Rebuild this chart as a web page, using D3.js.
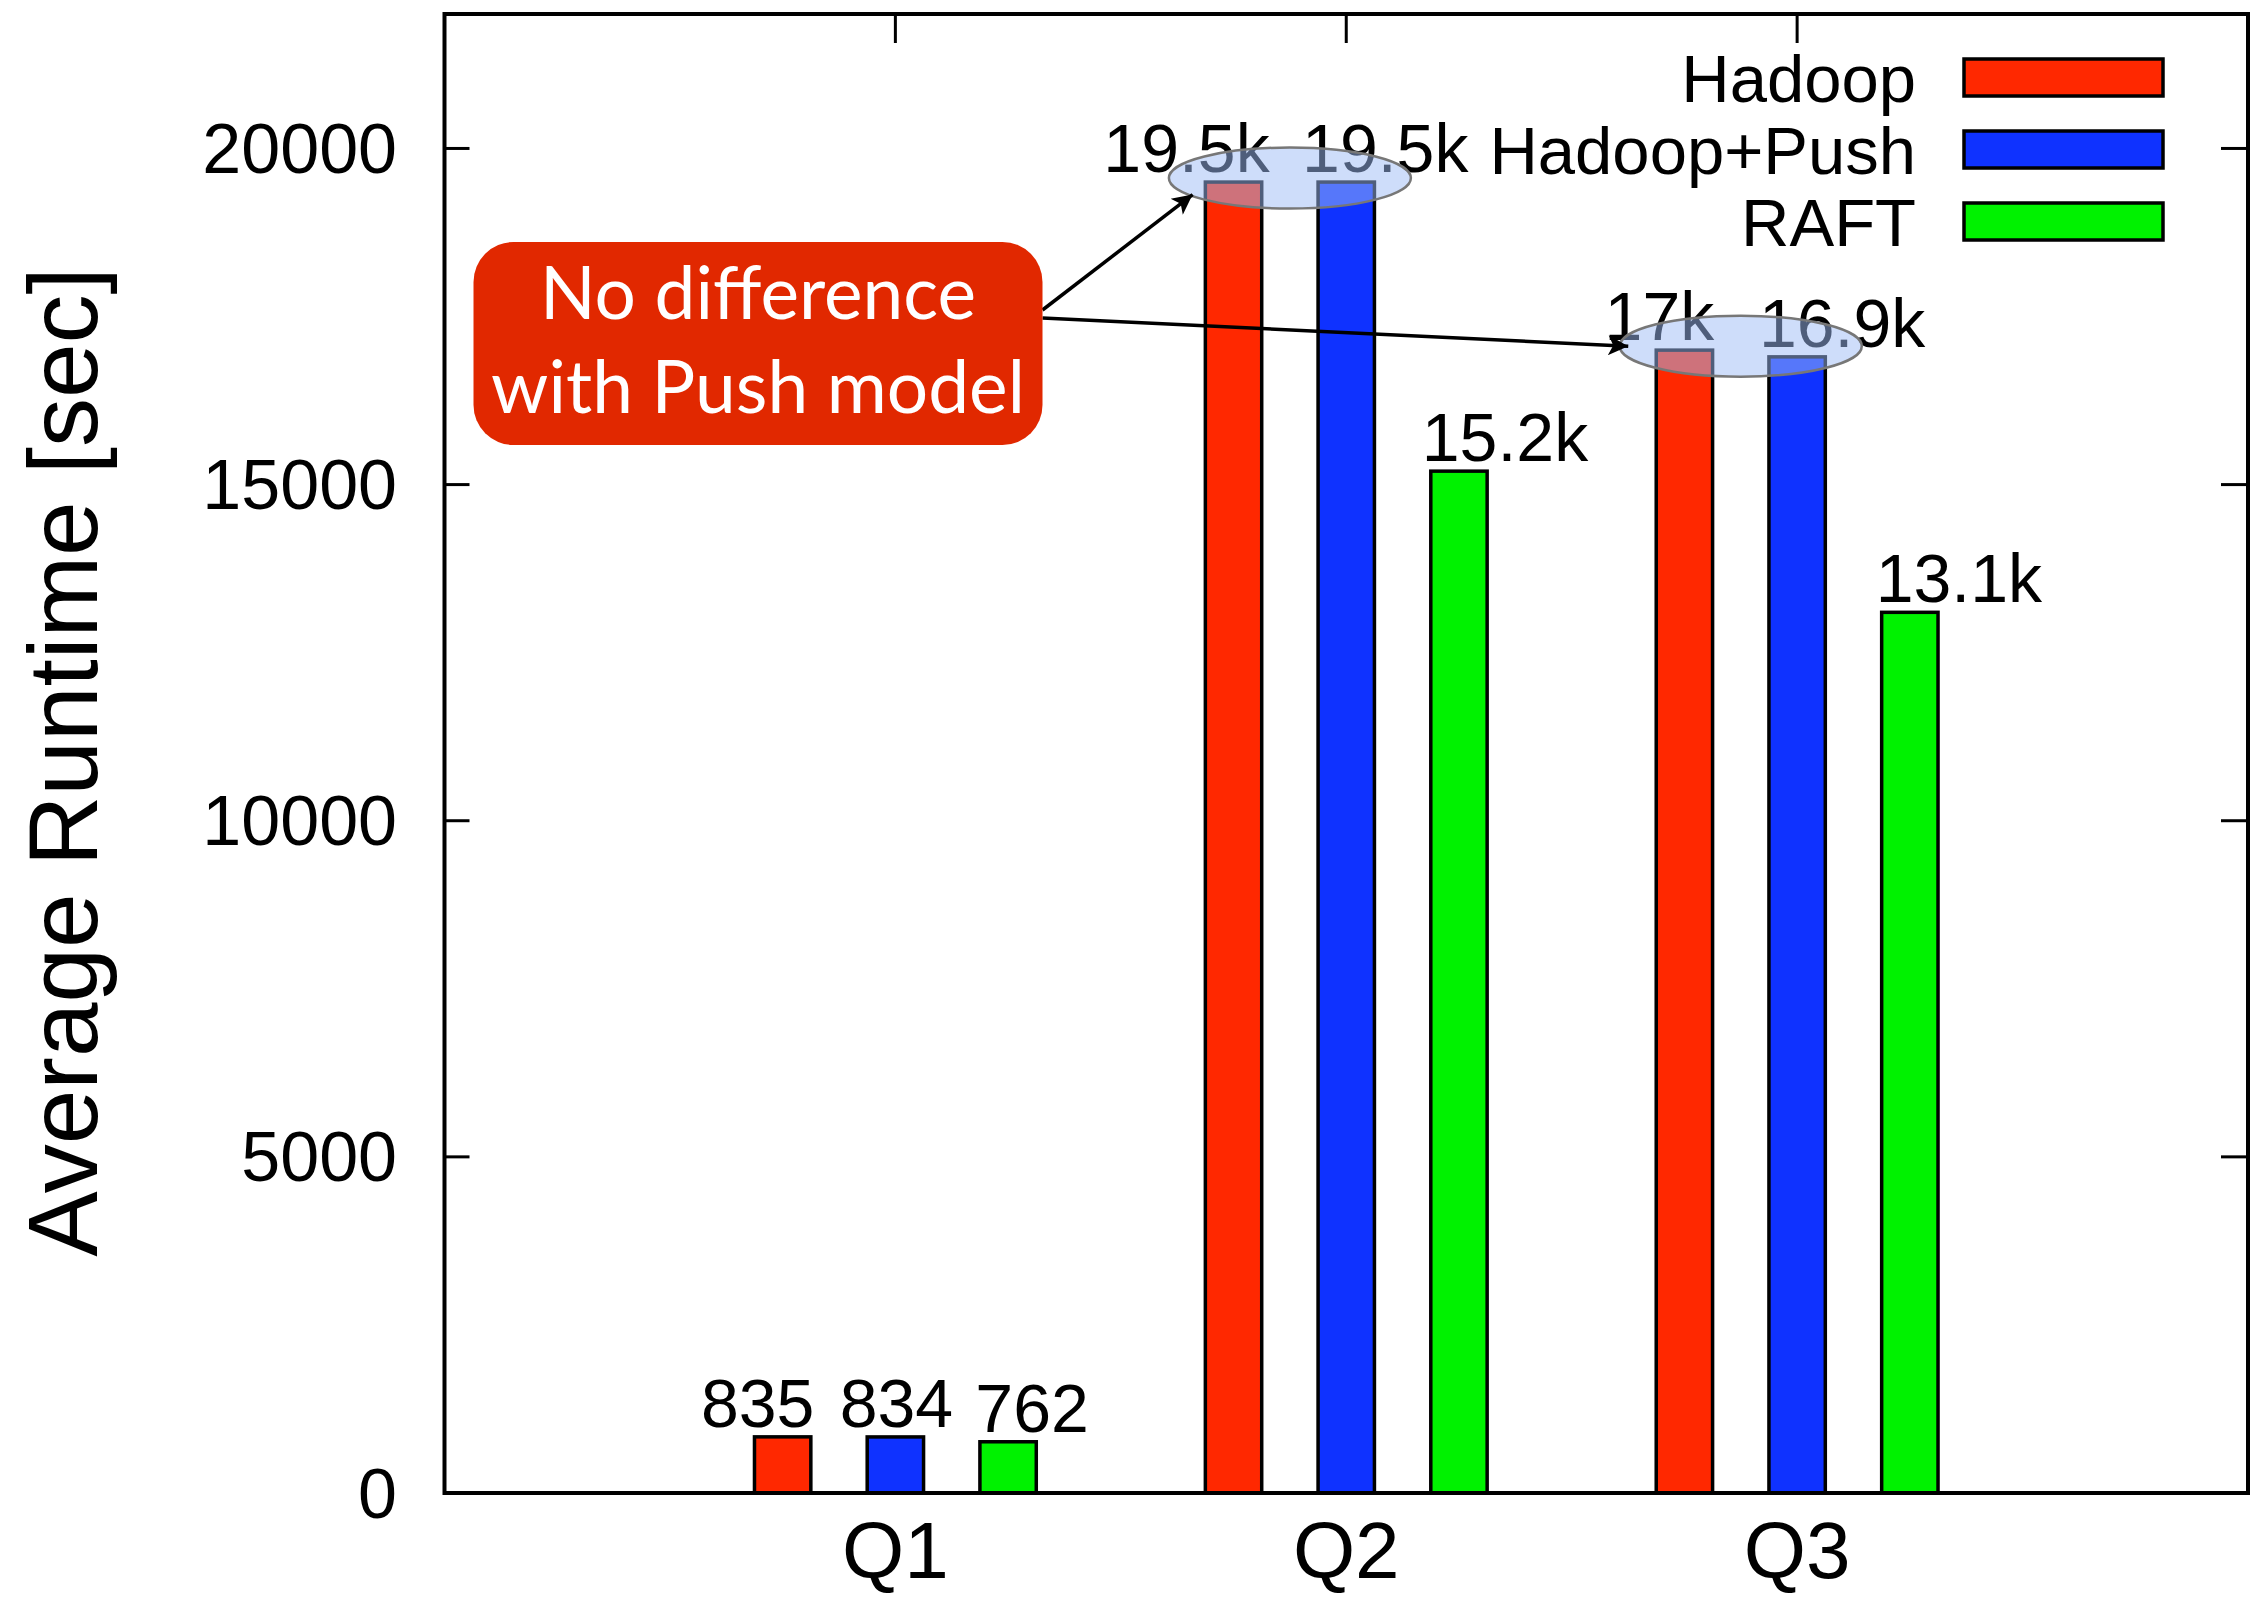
<!DOCTYPE html>
<html>
<head>
<meta charset="utf-8">
<script src="https://cdn.jsdelivr.net/npm/d3@7"></script>
<style>
  html, body { margin: 0; padding: 0; background: #fff; }
  svg { display: block; }
</style>
</head>
<body>
<svg id="chart" width="2250" height="1598"></svg>
<script>
// Query runtimes (seconds)
const categories = ["Q1", "Q2", "Q3"];
const seriesNames = ["Hadoop", "Hadoop+Push", "RAFT"];
const hadoop     = [835, 19500, 17000];
const hadoopPush = [834, 19500, 16900];
const raft       = [762, 15200, 13100];
const yTicks = [0, 5000, 10000, 15000, 20000];
const yTitle = "Average Runtime [sec]";
const noteLines = ["No difference", "with Push model"];

const series = [hadoop, hadoopPush, raft];
const colors = ["#ff2800", "#0f32ff", "#00f200"];

const W = 2250, H = 1598;
const plot = { left: 444.5, right: 2248, top: 14, bottom: 1493 };
const sans = "'Liberation Sans', Arial, Helvetica, sans-serif";

const svg = d3.select("#chart");

// x is continuous: category i sits at position i, frame spans -1..3
const x = d3.scaleLinear().domain([-1, 3]).range([plot.left, plot.right]);
const y = d3.scaleLinear().domain([0, 22000]).range([plot.bottom, plot.top]);

const barOffsets = [-0.25, 0, 0.25];
const barWidthUnits = 0.125;
const barW = x(barWidthUnits) - x(0);

// ticks (inward on all four sides)
const tickG = svg.append("g").attr("stroke", "#000").attr("stroke-width", 3);
yTicks.forEach(t => {
  tickG.append("line").attr("x1", plot.left).attr("x2", plot.left + 25).attr("y1", y(t)).attr("y2", y(t));
  tickG.append("line").attr("x1", plot.right - 27).attr("x2", plot.right).attr("y1", y(t)).attr("y2", y(t));
});
categories.forEach((c, i) => {
  tickG.append("line").attr("x1", x(i)).attr("x2", x(i)).attr("y1", plot.top).attr("y2", plot.top + 29);
  tickG.append("line").attr("x1", x(i)).attr("x2", x(i)).attr("y1", plot.bottom).attr("y2", plot.bottom - 29);
});

// y tick labels
svg.append("g").selectAll("text").data(yTicks).join("text")
  .attr("x", 397).attr("y", d => y(d) + 24.5)
  .attr("text-anchor", "end")
  .attr("font-family", sans).attr("font-size", 70)
  .text(d => d);

// category labels
svg.append("g").selectAll("text").data(categories).join("text")
  .attr("x", (d, i) => x(i)).attr("y", 1578)
  .attr("text-anchor", "middle")
  .attr("font-family", sans).attr("font-size", 80)
  .text(d => d);

// y axis title
svg.append("text")
  .attr("transform", "translate(97,762) rotate(-90)")
  .attr("text-anchor", "middle")
  .attr("font-family", sans).attr("font-size", 98)
  .text(yTitle);

// bars
const barData = [];
series.forEach((vals, s) => vals.forEach((v, i) => barData.push({ s, i, v })));

svg.append("g").selectAll("rect").data(barData).join("rect")
  .attr("x", d => x(d.i + barOffsets[d.s]) - barW / 2)
  .attr("y", d => y(d.v))
  .attr("width", barW)
  .attr("height", d => y(0) - y(d.v))
  .attr("fill", d => colors[d.s])
  .attr("stroke", "#000").attr("stroke-width", 3.5);

// frame
svg.append("rect")
  .attr("x", plot.left).attr("y", plot.top)
  .attr("width", plot.right - plot.left).attr("height", plot.bottom - plot.top)
  .attr("fill", "none").attr("stroke", "#000").attr("stroke-width", 4);

// value labels, nudged sideways so neighbours don't collide
const labelNudge = [[-25, 1, 24], [-47, 39, 46], [-25, 45, 49]];
const fmt = v => v < 1000 ? String(v) : (d3.format(".1f")(v / 1000).replace(/\.0$/, "") + "k");
svg.append("g").selectAll("text").data(barData).join("text")
  .attr("x", d => x(d.i + barOffsets[d.s]) + labelNudge[d.i][d.s])
  .attr("y", d => y(d.v) - 10)
  .attr("text-anchor", "middle")
  .attr("font-family", sans).attr("font-size", 68)
  .text(d => fmt(d.v));

// legend
const legend = svg.append("g");
seriesNames.forEach((name, s) => {
  const cy = 77.5 + s * 72;
  legend.append("text")
    .attr("x", 1916).attr("y", cy + 24)
    .attr("text-anchor", "end")
    .attr("font-family", sans).attr("font-size", 67)
    .text(name);
  legend.append("rect")
    .attr("x", 1964).attr("y", cy - 18.5)
    .attr("width", 199).attr("height", 37)
    .attr("fill", colors[s]).attr("stroke", "#000").attr("stroke-width", 3.5);
});

// highlight ellipses around the Hadoop / Hadoop+Push pairs of Q2 and Q3
const highlight = [1, 2].map(i => ({
  cx: (x(i + barOffsets[0]) + x(i + barOffsets[1])) / 2,
  cy: y(Math.max(hadoop[i], hadoopPush[i])) - 4,
  rx: 121, ry: 30.5
}));
svg.append("g").selectAll("ellipse").data(highlight).join("ellipse")
  .attr("cx", d => d.cx).attr("cy", d => d.cy)
  .attr("rx", d => d.rx).attr("ry", d => d.ry)
  .attr("fill", "rgb(158,188,245)").attr("fill-opacity", 0.5)
  .attr("stroke", "#777").attr("stroke-width", 2.5);

// callout box
const box = { x: 473.5, y: 242, w: 569, h: 203, r: 40 };
svg.append("defs").append("marker")
  .attr("id", "head").attr("viewBox", "0 0 10 10")
  .attr("refX", 10).attr("refY", 5)
  .attr("markerUnits", "userSpaceOnUse")
  .attr("markerWidth", 28).attr("markerHeight", 20)
  .attr("orient", "auto")
  .append("path").attr("d", "M0,0 L10,5 L0,10 L2.5,5 Z").attr("fill", "#000");

// arrow tips sit on the ellipse outlines
const tipAngles = [146, 180];
const tipScale = [0.97, 0.93];
const arrows = highlight.map((e, k) => {
  const a = tipAngles[k] * Math.PI / 180;
  return {
    x1: box.x + box.w, y1: [310, 318][k],
    x2: e.cx + Math.cos(a) * e.rx * tipScale[k],
    y2: e.cy + Math.sin(a) * e.ry * tipScale[k]
  };
});
svg.append("g").selectAll("line").data(arrows).join("line")
  .attr("x1", d => d.x1).attr("y1", d => d.y1)
  .attr("x2", d => d.x2).attr("y2", d => d.y2)
  .attr("stroke", "#000").attr("stroke-width", 3.5)
  .attr("marker-end", "url(#head)");

svg.append("rect")
  .attr("x", box.x).attr("y", box.y).attr("width", box.w).attr("height", box.h)
  .attr("rx", box.r).attr("ry", box.r)
  .attr("fill", "#e12800");

svg.append("g").selectAll("text").data(noteLines).join("text")
  .attr("x", box.x + box.w / 2)
  .attr("y", (d, i) => 319 + i * 94)
  .attr("text-anchor", "middle")
  .attr("font-family", "Lato, 'Open Sans', sans-serif")
  .attr("font-size", 73)
  .attr("fill", "#fff")
  .text(d => d);
</script>
</body>
</html>
